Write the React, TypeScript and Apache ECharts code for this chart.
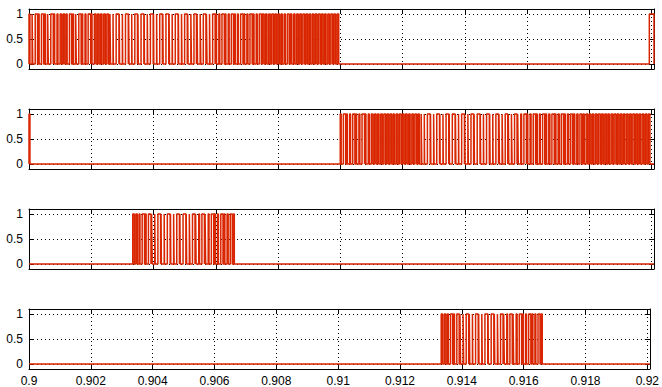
import React, { useEffect, useRef } from 'react';
import * as echarts from 'echarts';

// ---- axis data ----
const X_MIN = 0.9;
const X_MAX = 0.92008;
const xTicks = [0.9, 0.902, 0.904, 0.906, 0.908, 0.91, 0.912, 0.914, 0.916, 0.918, 0.92];
const Y_MIN = -0.1;
const Y_MAX = 1.1;
const yTicks = [0, 0.5, 1];

// ---- signal data (switching windows and per-carrier-period duty ratios) ----
const p1Window = [0.9, 0.91];
const p1Duty = [
  0.3, 0.2, 0.75, 0.25, 0.7, 0.3, 0.2, 0.8, 0.25, 0.3,
  0.5, 0.5, 0.25, 0.7, 0.3, 0.2, 0.75, 0.25, 0.3, 0.8,
  0.25, 0.5, 0.5, 0.45, 0.5, 0.55, 0.2, 0.1, 0.9, 0.1,
  0.1, 0.9, 0.15, 0.1, 0.85, 0.1, 0.9, 0.1, 0.15, 0.9,
  0.1, 0.1, 0.85, 0.1, 0.9, 0.15, 0.1, 0.9, 0.1, 0.15,
  0.85, 0.1, 0.2, 0.8, 0.15, 0.2, 0.85, 0.2, 0.15, 0.8,
  0.25, 0.3, 0.75, 0.25, 0.3, 0.7, 0.3, 0.25, 0.75, 0.3,
  0.35, 0.7, 0.3, 0.35, 0.65, 0.5, 0.45, 0.5, 0.55, 0.5,
  0.5, 0.4, 0.35, 0.6, 0.4, 0.45, 0.5, 0.5, 0.55, 0.5,
  0.45, 0.5, 0.5, 0.55, 0.5, 0.45, 0.5, 0.55, 0.5, 0.5,
];
const p1Extra = [[0.91993, X_MAX]];

const p2Extra = [[0.9, 0.90003]];
const p2Window = [0.91, 0.92];
const p2Duty = [
  0.3, 0.75, 0.25, 0.3, 0.7, 0.25, 0.3, 0.8, 0.25, 0.35,
  0.5, 0.5, 0.45, 0.5, 0.55, 0.5, 0.5, 0.45, 0.5, 0.55,
  0.5, 0.5, 0.45, 0.5, 0.55, 0.4, 0.2, 0.1, 0.9, 0.1,
  0.15, 0.9, 0.1, 0.1, 0.85, 0.1, 0.9, 0.15, 0.1, 0.9,
  0.1, 0.15, 0.85, 0.1, 0.9, 0.1, 0.1, 0.9, 0.15, 0.1,
  0.85, 0.15, 0.2, 0.8, 0.15, 0.2, 0.8, 0.2, 0.25, 0.8,
  0.25, 0.3, 0.75, 0.3, 0.25, 0.7, 0.3, 0.35, 0.75, 0.3,
  0.35, 0.7, 0.3, 0.35, 0.65, 0.35, 0.4, 0.6, 0.4, 0.5,
  0.5, 0.45, 0.5, 0.55, 0.5, 0.5, 0.45, 0.5, 0.55, 0.5,
  0.5, 0.45, 0.5, 0.5, 0.55, 0.5, 0.45, 0.5, 0.5, 0.5,
];

const p3Window = [0.903333, 0.906667];
const p3Duty = [
  0.5, 0.45, 0.3, 0.75, 0.25, 0.8, 0.2, 0.15, 0.85, 0.1, 0.1,
  0.9, 0.1, 0.15, 0.85, 0.1, 0.9, 0.15, 0.2, 0.8, 0.15, 0.25,
  0.8, 0.2, 0.25, 0.75, 0.3, 0.25, 0.7, 0.3, 0.35, 0.65, 0.3,
];

const p4Window = [0.913333, 0.916667];
const p4Duty = [
  0.45, 0.5, 0.3, 0.7, 0.25, 0.75, 0.2, 0.2, 0.8, 0.15, 0.1,
  0.85, 0.1, 0.15, 0.9, 0.1, 0.85, 0.15, 0.2, 0.8, 0.2, 0.25,
  0.75, 0.2, 0.3, 0.75, 0.25, 0.3, 0.7, 0.35, 0.3, 0.65, 0.35,
];

const RED = '#d92600';
const GRID_TOPS = [9, 109, 209, 309];
const GRID_HEIGHT = 60;
const GRID_LEFT = 29;
const GRID_WIDTH = 625;

function pulses(win: number[], duty: number[]): number[][] {
  const n = duty.length;
  const T = (win[1] - win[0]) / n;
  return duty.map((d, k) => [win[0] + k * T, win[0] + (k + d) * T]);
}

function waveform(intervals: number[][]): number[][] {
  const sorted = [...intervals].sort((a, b) => a[0] - b[0]);
  const pts: number[][] = [[X_MIN, 0]];
  for (const [a, b] of sorted) {
    pts.push([a, 0], [a, 1], [b, 1], [b, 0]);
  }
  pts.push([X_MAX, 0]);
  return pts;
}

const fmt = (v: number) => String(parseFloat(Number(v).toFixed(4)));

export default function App() {
  const ref = useRef<HTMLDivElement>(null);

  useEffect(() => {
    if (!ref.current) return;
    const chart = echarts.init(ref.current, null, { renderer: 'svg' });

    const signals = [
      waveform([...pulses(p1Window, p1Duty), ...p1Extra]),
      waveform([...p2Extra, ...pulses(p2Window, p2Duty)]),
      waveform(pulses(p3Window, p3Duty)),
      waveform(pulses(p4Window, p4Duty)),
    ];

    const font = { color: '#000', fontSize: 12, fontFamily: '"Liberation Sans", Arial, sans-serif' };
    const lineStyle = { color: '#000', width: 1 };
    const dotted = { color: '#000', width: 1, type: [1, 3] as any };

    const grid: any[] = [];
    const xAxis: any[] = [];
    const yAxis: any[] = [];
    const series: any[] = [];

    GRID_TOPS.forEach((top, i) => {
      grid.push({ left: GRID_LEFT, top, width: GRID_WIDTH, height: GRID_HEIGHT, containLabel: false });
      xAxis.push({
        type: 'value', gridIndex: i, position: 'bottom', min: X_MIN, max: X_MAX,
        axisLine: { show: true, onZero: false, lineStyle },
        axisTick: { show: true, inside: true, length: 5, customValues: xTicks, lineStyle },
        axisLabel: { show: i === 3, customValues: xTicks, formatter: fmt, margin: 6, ...font },
        splitLine: { show: true, lineStyle: dotted },
      });
      xAxis.push({
        type: 'value', gridIndex: i, position: 'top', min: X_MIN, max: X_MAX,
        axisLine: { show: true, onZero: false, lineStyle },
        axisTick: { show: true, inside: true, length: 5, customValues: xTicks, lineStyle },
        axisLabel: { show: false },
        splitLine: { show: false },
      });
      yAxis.push({
        type: 'value', gridIndex: i, position: 'left', min: Y_MIN, max: Y_MAX,
        axisLine: { show: true, onZero: false, lineStyle },
        axisTick: { show: true, inside: true, length: 5, customValues: yTicks, lineStyle },
        axisLabel: { show: true, customValues: yTicks, formatter: fmt, margin: 6, ...font },
        splitLine: { show: true, lineStyle: dotted },
      });
      yAxis.push({
        type: 'value', gridIndex: i, position: 'right', min: Y_MIN, max: Y_MAX,
        axisLine: { show: true, onZero: false, lineStyle },
        axisTick: { show: true, inside: true, length: 5, customValues: yTicks, lineStyle },
        axisLabel: { show: false },
        splitLine: { show: false },
      });
      series.push({
        type: 'line', xAxisIndex: 2 * i, yAxisIndex: 2 * i,
        data: signals[i], showSymbol: false, symbol: 'none', silent: true,
        lineStyle: { color: RED, width: 1.5 }, z: 3,
      });
    });

    chart.setOption({ animation: false, grid, xAxis, yAxis, series });
    return () => chart.dispose();
  }, []);

  return (
    <div
      ref={ref}
      style={{ position: 'fixed', left: 0, top: 0, width: 662, height: 387, background: '#fff' }}
    />
  );
}
